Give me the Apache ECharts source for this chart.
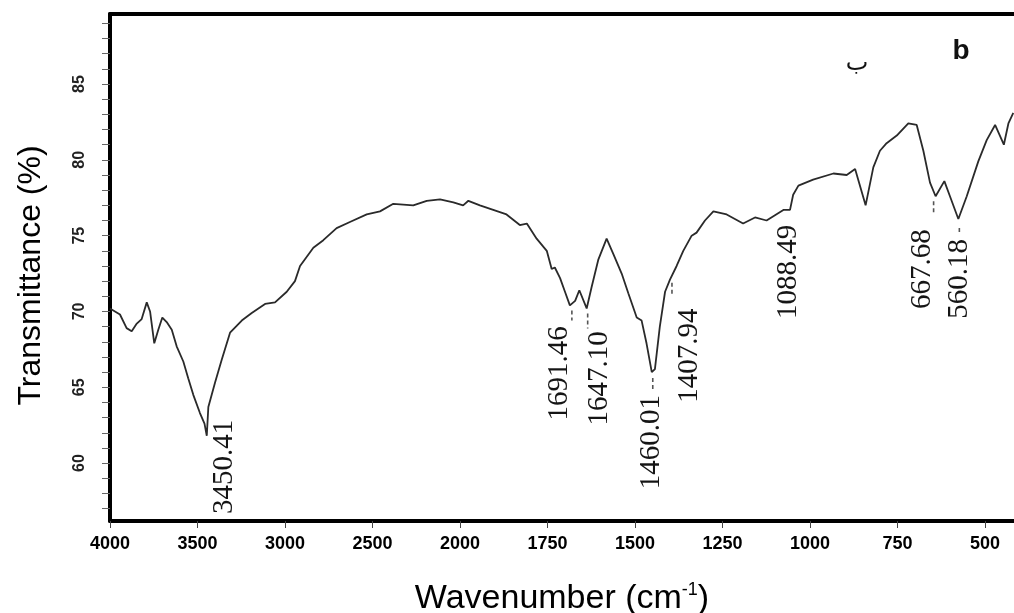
<!DOCTYPE html>
<html><head><meta charset="utf-8">
<script src="https://cdn.jsdelivr.net/npm/echarts@6/dist/echarts.min.js"></script>
<style>html,body{margin:0;padding:0;background:#fff}#c{width:1014px;height:613px}</style>
</head><body><div id="c"></div>
<script>
// ---- data ----
const wavenumbers = [4000,3943,3905,3876,3847,3819,3790,3771,3747,3724,3701,3676,3647,3619,3581,3553,3524,3486,3460,3447,3438,3400,3362,3314,3247,3190,3114,3057,2990,2943,2914,2838,2781,2705,2629,2533,2457,2381,2267,2190,2114,2038,1991,1976,1943,1905,1867,1829,1809,1781,1752,1738,1729,1714,1700,1686,1671,1659,1638,1624,1605,1581,1562,1538,1519,1495,1481,1467,1452,1443,1429,1414,1400,1381,1362,1338,1324,1300,1276,1238,1191,1157,1124,1076,1057,1048,1033,991,933,895,871,841,819,800,781,752,719,695,676,657,641,616,600,576,552,519,495,471,446,433,419];
const transmittance = [70.2,69.8,68.9,68.7,69.2,69.5,70.6,70.0,67.9,68.8,69.6,69.3,68.8,67.7,66.7,65.6,64.5,63.3,62.6,61.8,63.7,65.3,66.8,68.6,69.4,69.9,70.5,70.6,71.3,72.0,73.0,74.2,74.7,75.5,75.9,76.4,76.6,77.1,77.0,77.3,77.4,77.2,77.0,77.3,77.0,76.7,76.4,75.7,75.8,74.8,74.0,72.8,72.9,72.2,71.3,70.4,70.7,71.4,70.2,71.6,73.4,74.8,73.8,72.5,71.2,69.6,69.4,67.9,66.0,66.2,69.0,71.3,72.1,73.0,74.0,75.0,75.2,76.0,76.6,76.4,75.8,76.2,76.0,76.7,76.7,77.7,78.3,78.7,79.1,79.0,79.4,77.0,79.5,80.6,81.1,81.6,82.4,82.3,80.6,78.5,77.6,78.6,77.6,76.1,77.6,79.9,81.3,82.3,81.0,82.4,83.1];

const xTickValues = [4000,3500,3000,2500,2000,1750,1500,1250,1000,750,500];
const xTickLabels = ['4000','3500','3000','2500','2000','1750','1500','1250','1000','750','500'];
const yTickLabelValues = [60,65,70,75,80,85];
const yTickValues = [57,58,59,60,61,62,63,64,65,66,67,68,69,70,71,72,73,74,75,76,77,78,79,80,81,82,83,84,85,86,87,88,89];

const peakLabels = ['3450.41','1691.46','1647.10','1460.01','1407.94','1088.49','667.68','560.18'];
const peakWavenumber = [3447,1686,1638,1452,1400,1066,641,576];   // where each band sits on the drawn axis
const peakTransmittance = [61.8,70.4,70.2,66.0,72.1,76.7,77.6,76.1];

// ---- layout (pixels) ----
const peakLayout = [
  {dx:18, dy:31, dash:null},
  {dx:-10, dy:68, dash:[2,5,15]},
  {dx:13, dy:70, dash:[1,5,20]},
  {dx:0, dy:70, dash:[1,6,18]},
  {dx:19, dy:76, dash:[2,3,17]},
  {dx:2, dy:62, dash:null},
  {dx:-13, dy:73, dash:[-2,5,18]},
  {dx:1, dy:60, dash:[1,9,14]}
];

// FTIR axis: 500 cm-1 per division above 2000, 250 cm-1 per division below
function toAxis(w){ return w >= 2000 ? (4000 - w) / 500 : 4 + (2000 - w) / 250; }
const xTickPos = xTickValues.map(toAxis);
const xMax = toAxis(417);

const chart = echarts.init(document.getElementById('c'), null, {renderer:'canvas'});
chart.setOption({
  animation:false,
  backgroundColor:'#fff',
  grid:{left:110, right:0, top:14, bottom:92, containLabel:false, outerBoundsMode:'none'},
  xAxis:[{
    type:'value', min:0, max:xMax, position:'bottom',
    axisLine:{show:true, onZero:false, lineStyle:{color:'#000', width:4}},
    axisTick:{show:true, customValues:xTickPos, length:7, lineStyle:{color:'#444', width:1}},
    axisLabel:{customValues:xTickPos, margin:14, color:'#000', fontWeight:'bold', fontSize:18,
      fontFamily:'Liberation Sans',
      formatter:function(v){ const k = xTickPos.findIndex(p => Math.abs(p - v) < 1e-6); return k >= 0 ? xTickLabels[k] : ''; }},
    splitLine:{show:false},
    name:'{a|Wavenumber (cm}{s|-1}{a|)}', nameLocation:'middle', nameGap:60,
    nameTextStyle:{rich:{
      a:{fontSize:34, color:'#000', fontFamily:'Liberation Sans'},
      s:{fontSize:18, color:'#000', fontFamily:'Liberation Sans', padding:[0,0,17,0]}
    }}
  },{
    type:'value', min:0, max:xMax, position:'top',
    axisLine:{show:true, onZero:false, lineStyle:{color:'#000', width:4}},
    axisTick:{show:false}, axisLabel:{show:false}, splitLine:{show:false}
  }],
  yAxis:{
    type:'value', min:56.18, max:89.62,
    axisLine:{show:true, onZero:false, lineStyle:{color:'#000', width:4}},
    axisTick:{show:true, customValues:yTickValues, length:8, lineStyle:{color:'#666', width:1}},
    axisLabel:{customValues:yTickLabelValues, rotate:90, margin:22, fontSize:16, color:'#222', fontWeight:'bold',
      fontFamily:'Liberation Sans'},
    splitLine:{show:false},
    name:'Transmittance (%)', nameLocation:'middle', nameGap:63,
    nameTextStyle:{fontSize:32, color:'#000', fontFamily:'Liberation Sans', padding:[0,16,0,0]}
  },
  series:[{
    type:'line', xAxisIndex:0,
    data: wavenumbers.map((w, i) => [toAxis(w), transmittance[i]]),
    showSymbol:false, symbol:'none',
    lineStyle:{color:'#2a2a2a', width:1.8}
  },{
    type:'custom', xAxisIndex:0,
    data: peakWavenumber.map((w, i) => [toAxis(w), peakTransmittance[i], i]),
    renderItem:function(params, api){
      const i = api.value(2);
      const p = api.coord([api.value(0), api.value(1)]);
      const L = peakLayout[i];
      const children = [{
        type:'text', x:p[0] + L.dx, y:p[1] + L.dy, rotation:Math.PI / 2,
        style:{text:peakLabels[i], fill:'#151515', fontSize:29, fontFamily:'Liberation Serif',
          align:'center', verticalAlign:'middle'}
      }];
      if (L.dash) children.push({
        type:'line',
        shape:{x1:p[0] + L.dash[0], y1:p[1] + L.dash[1], x2:p[0] + L.dash[0], y2:p[1] + L.dash[2]},
        style:{stroke:'#555', lineWidth:1.6, lineDash:[4,3]}
      });
      return {type:'group', children:children};
    }
  }],
  graphic:[
    {type:'text', x:961, y:51, style:{text:'b', fill:'#111', fontSize:28, fontWeight:'bold', fontFamily:'Liberation Sans', align:'center', verticalAlign:'middle'}},
    {type:'text', x:857, y:64, style:{text:'\u0628', fill:'#111', fontSize:24, fontFamily:'DejaVu Sans', align:'center', verticalAlign:'middle'}}
  ]
});
</script>
</body></html>
